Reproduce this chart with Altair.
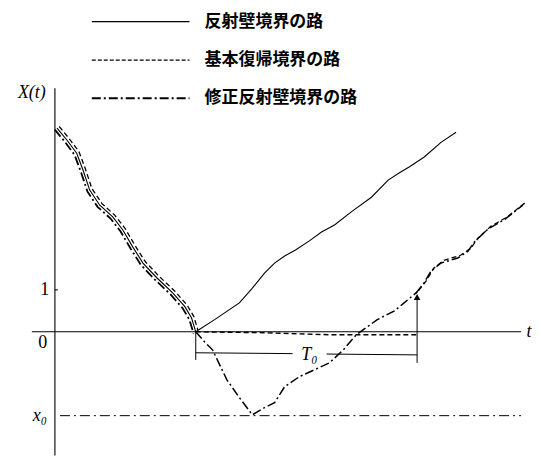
import altair as alt
import pandas as pd

# ---- data (t: time, X: process value) ----
desc_t = [0.05, 0.29, 0.52, 0.67, 0.83, 1.07, 1.38, 1.62, 1.86, 2.10, 2.43, 2.81, 3.10, 3.26, 3.36]
desc_x = [4.86, 4.57, 4.26, 3.86, 3.38, 3.02, 2.74, 2.43, 2.02, 1.64, 1.29, 0.93, 0.60, 0.33, 0.00]

refl_t = [3.36, 3.81, 4.40, 4.69, 5.00, 5.24, 5.48, 5.74, 6.07, 6.36, 6.67, 7.07, 7.55, 7.95, 8.21, 8.45, 8.81, 9.21, 9.57]
refl_x = [0.00, 0.29, 0.69, 1.02, 1.40, 1.64, 1.81, 1.95, 2.17, 2.38, 2.55, 2.86, 3.21, 3.62, 3.79, 3.93, 4.17, 4.52, 4.76]

basic_t = [3.36, 4.88, 6.55, 8.64]
basic_x = [0.00, -0.02, -0.07, -0.07]

mod_t = [3.36, 3.57, 3.76, 4.10, 4.40, 4.71, 5.00, 5.24, 5.48, 5.83, 6.55, 6.88, 7.19, 7.69, 8.10, 8.33, 8.64]
mod_x = [0.00, -0.24, -0.43, -1.14, -1.57, -1.98, -1.81, -1.69, -1.31, -1.07, -0.74, -0.43, -0.07, 0.29, 0.50, 0.69, 0.95]

restart_t = [8.64, 8.83, 9.00, 9.24, 9.64, 9.88, 10.05, 10.36, 10.76, 11.19]
restart_x = [0.95, 1.19, 1.48, 1.67, 1.79, 1.95, 2.19, 2.48, 2.71, 3.05]

x0_level = -2.0
T0_start = 3.36
T0_end = 8.64

legend_labels = ["反射壁境界の路", "基本復帰境界の路", "修正反射壁境界の路"]
legend_rows = [7.40, 6.48, 5.57]

X_DOM = [-1.119, 11.357]
Y_DOM = [-2.952, 7.714]

xs = alt.Scale(domain=X_DOM, nice=False, zero=False)
ys = alt.Scale(domain=Y_DOM, nice=False, zero=False)


def enc_xy():
    return dict(
        x=alt.X("t:Q", scale=xs, axis=None),
        y=alt.Y("X:Q", scale=ys, axis=None),
    )


def line(ts, xv, dash=None, width=1.1, **kw):
    df = pd.DataFrame({"t": ts, "X": xv, "o": list(range(len(ts)))})
    props = dict(color="black", strokeWidth=width, **kw)
    if dash:
        props["strokeDash"] = dash
    return alt.Chart(df).mark_line(**props).encode(order="o:Q", **enc_xy())


def segs(rows, dash=None, width=1.0):
    df = pd.DataFrame(rows, columns=["t", "X", "t2", "X2"])
    props = dict(color="black", strokeWidth=width)
    if dash:
        props["strokeDash"] = dash
    return alt.Chart(df).mark_rule(**props).encode(
        x=alt.X("t:Q", scale=xs, axis=None),
        y=alt.Y("X:Q", scale=ys, axis=None),
        x2="t2:Q",
        y2="X2:Q",
    )


def text(rows, font="Liberation Serif, DejaVu Serif", size=18, style="normal", align="center", weight="normal"):
    df = pd.DataFrame(rows, columns=["t", "X", "s"])
    return alt.Chart(df).mark_text(
        font=font, fontSize=size, fontStyle=style, fontWeight=weight, align=align,
        baseline="middle", color="black"
    ).encode(text="s:N", **enc_xy())


DASH = [5, 3]
DASHDOT = [9, 3, 2, 3]

layers = []

# axes
layers.append(segs([[0, 5.81, 0, Y_DOM[0]], [-0.55, 0, 11.12, 0], [0, 1, 0.07, 1]], width=1.1))
# x0 level line
layers.append(segs([[0.12, x0_level, 11.12, x0_level]], dash=[10, 4, 2, 4], width=1.0))

# descending bundle (three paths nearly coincide)
layers.append(line(desc_t, desc_x, width=1.1))
layers.append(line(desc_t, desc_x, dash=DASH, width=1.3, xOffset=2.2, yOffset=-1.6))
layers.append(line(desc_t, desc_x, dash=DASHDOT, width=1.8, xOffset=-2.2, yOffset=1.6))

# after hitting 0
layers.append(line(refl_t, refl_x, width=1.1))
layers.append(line(basic_t, basic_x, dash=DASH, width=1.4))
layers.append(line(mod_t, mod_x, dash=DASHDOT, width=1.5))
layers.append(line(restart_t, restart_x, dash=DASHDOT, width=1.5, xOffset=-1.2, yOffset=1.2))
layers.append(line(restart_t, restart_x, dash=DASH, width=1.3, xOffset=1.5, yOffset=-1.5))

# T0 bracket and jump arrow
layers.append(segs([
    [T0_start, 0, T0_start, -0.67],
    [T0_start, -0.50, 5.67, -0.52],
    [6.48, -0.53, T0_end, -0.55],
    [T0_end, -0.07, T0_end, -0.74],
    [T0_end, -0.07, T0_end, 0.85],
], width=1.0))
arrow_df = pd.DataFrame({"t": [T0_end], "X": [0.83]})
layers.append(alt.Chart(arrow_df).mark_point(shape="triangle-up", filled=True, size=45, color="black", opacity=1).encode(**enc_xy()))

# legend
layers.append(line([0.88, 3.21], [legend_rows[0]] * 2, width=1.1))
layers.append(line([0.88, 3.21], [legend_rows[1]] * 2, dash=[4, 2], width=1.2))
layers.append(line([0.88, 3.21], [legend_rows[2]] * 2, dash=DASHDOT, width=2.0))
layers.append(text([[3.57, r, s] for r, s in zip(legend_rows, legend_labels)],
                   font="Noto Sans CJK JP", size=17, align="left", weight="bold"))

# labels
layers.append(text([[-0.55, 5.69, "X(t)"], [11.31, 0, "t"], [6.07, -0.55, "T₀"], [-0.36, -2.02, "x₀"]],
                   style="italic"))
layers.append(text([[-0.29, -0.26, "0"], [-0.24, 1.0, "1"]]))

chart = alt.layer(*layers).properties(width=524, height=448, padding=0, background="white").configure_view(stroke=None)

chart.save("out.html", embed_options={"renderer": "svg", "actions": False})
